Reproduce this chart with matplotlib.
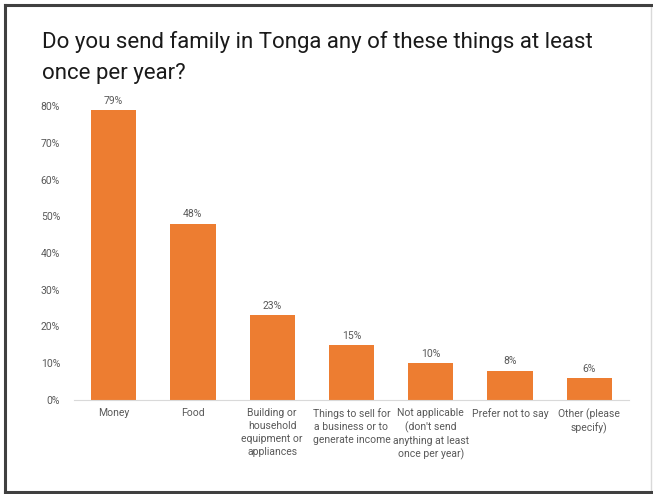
import matplotlib
matplotlib.use("Agg")
import matplotlib.pyplot as plt
from matplotlib.patches import Rectangle
from matplotlib.ticker import PercentFormatter

categories = [
    "Money",
    "Food",
    "Building or\nhousehold\nequipment or\nappliances",
    "Things to sell for\na business or to\ngenerate income",
    "Not applicable\n(don't send\nanything at least\nonce per year)",
    "Prefer not to say",
    "Other (please\nspecify)",
]
values = [0.79, 0.48, 0.23, 0.15, 0.10, 0.08, 0.06]
yticks = [0, 0.1, 0.2, 0.3, 0.4, 0.5, 0.6, 0.7, 0.8]

plt.rcParams["font.family"] = ["Roboto", "DejaVu Sans"]

fig = plt.figure(figsize=(6.53, 4.94), dpi=100)
W, H = 653, 494

# chart frame
fig.patches.append(Rectangle((5 / W, 2 / H), 646 / W, 487 / H, transform=fig.transFigure,
                             fill=False, edgecolor="#D9D9D9", linewidth=1))
fig.add_artist(plt.Line2D([5 / W, 5 / W], [2 / H, 489 / H], color="#404040", lw=2.2))
fig.add_artist(plt.Line2D([5 / W, 651 / W], [489 / H, 489 / H], color="#404040", lw=2.2))
fig.add_artist(plt.Line2D([5 / W, 651 / W], [2 / H, 2 / H], color="#404040", lw=2.2))

ax = fig.add_axes([74 / W, 1 - 400 / H, 555 / W, (400 - 106) / H])
x = range(len(categories))
bars = ax.bar(x, values, width=0.57, color="#ED7D31")
ax.set_xlim(-0.5, len(categories) - 0.5)
ax.set_ylim(0, 0.8)
ax.set_yticks(yticks)
ax.yaxis.set_major_formatter(PercentFormatter(1.0, decimals=0))
ax.set_xticks(list(x))
ax.set_xticklabels(categories, fontsize=7.5, color="#595959", linespacing=1.35)
ax.tick_params(axis="y", labelsize=7.5, labelcolor="#595959", length=0, pad=10)
ax.tick_params(axis="x", length=0, pad=6)
for s in ["top", "right", "left"]:
    ax.spines[s].set_visible(False)
ax.spines["bottom"].set_color("#D9D9D9")

for b, v in zip(bars, values):
    ax.annotate(f"{v:.0%}", (b.get_x() + b.get_width() / 2, v), xytext=(0, 3),
                textcoords="offset points", ha="center", va="bottom",
                fontsize=7.5, color="#595959", clip_on=False)

fig.text(42 / W, 1 - 31 / H, "Do you send family in Tonga any of these things at least\nonce per year?",
         fontsize=16, color="#1a1a1a", va="top", ha="left", linespacing=1.6)

fig.savefig("out.png", dpi=100)
